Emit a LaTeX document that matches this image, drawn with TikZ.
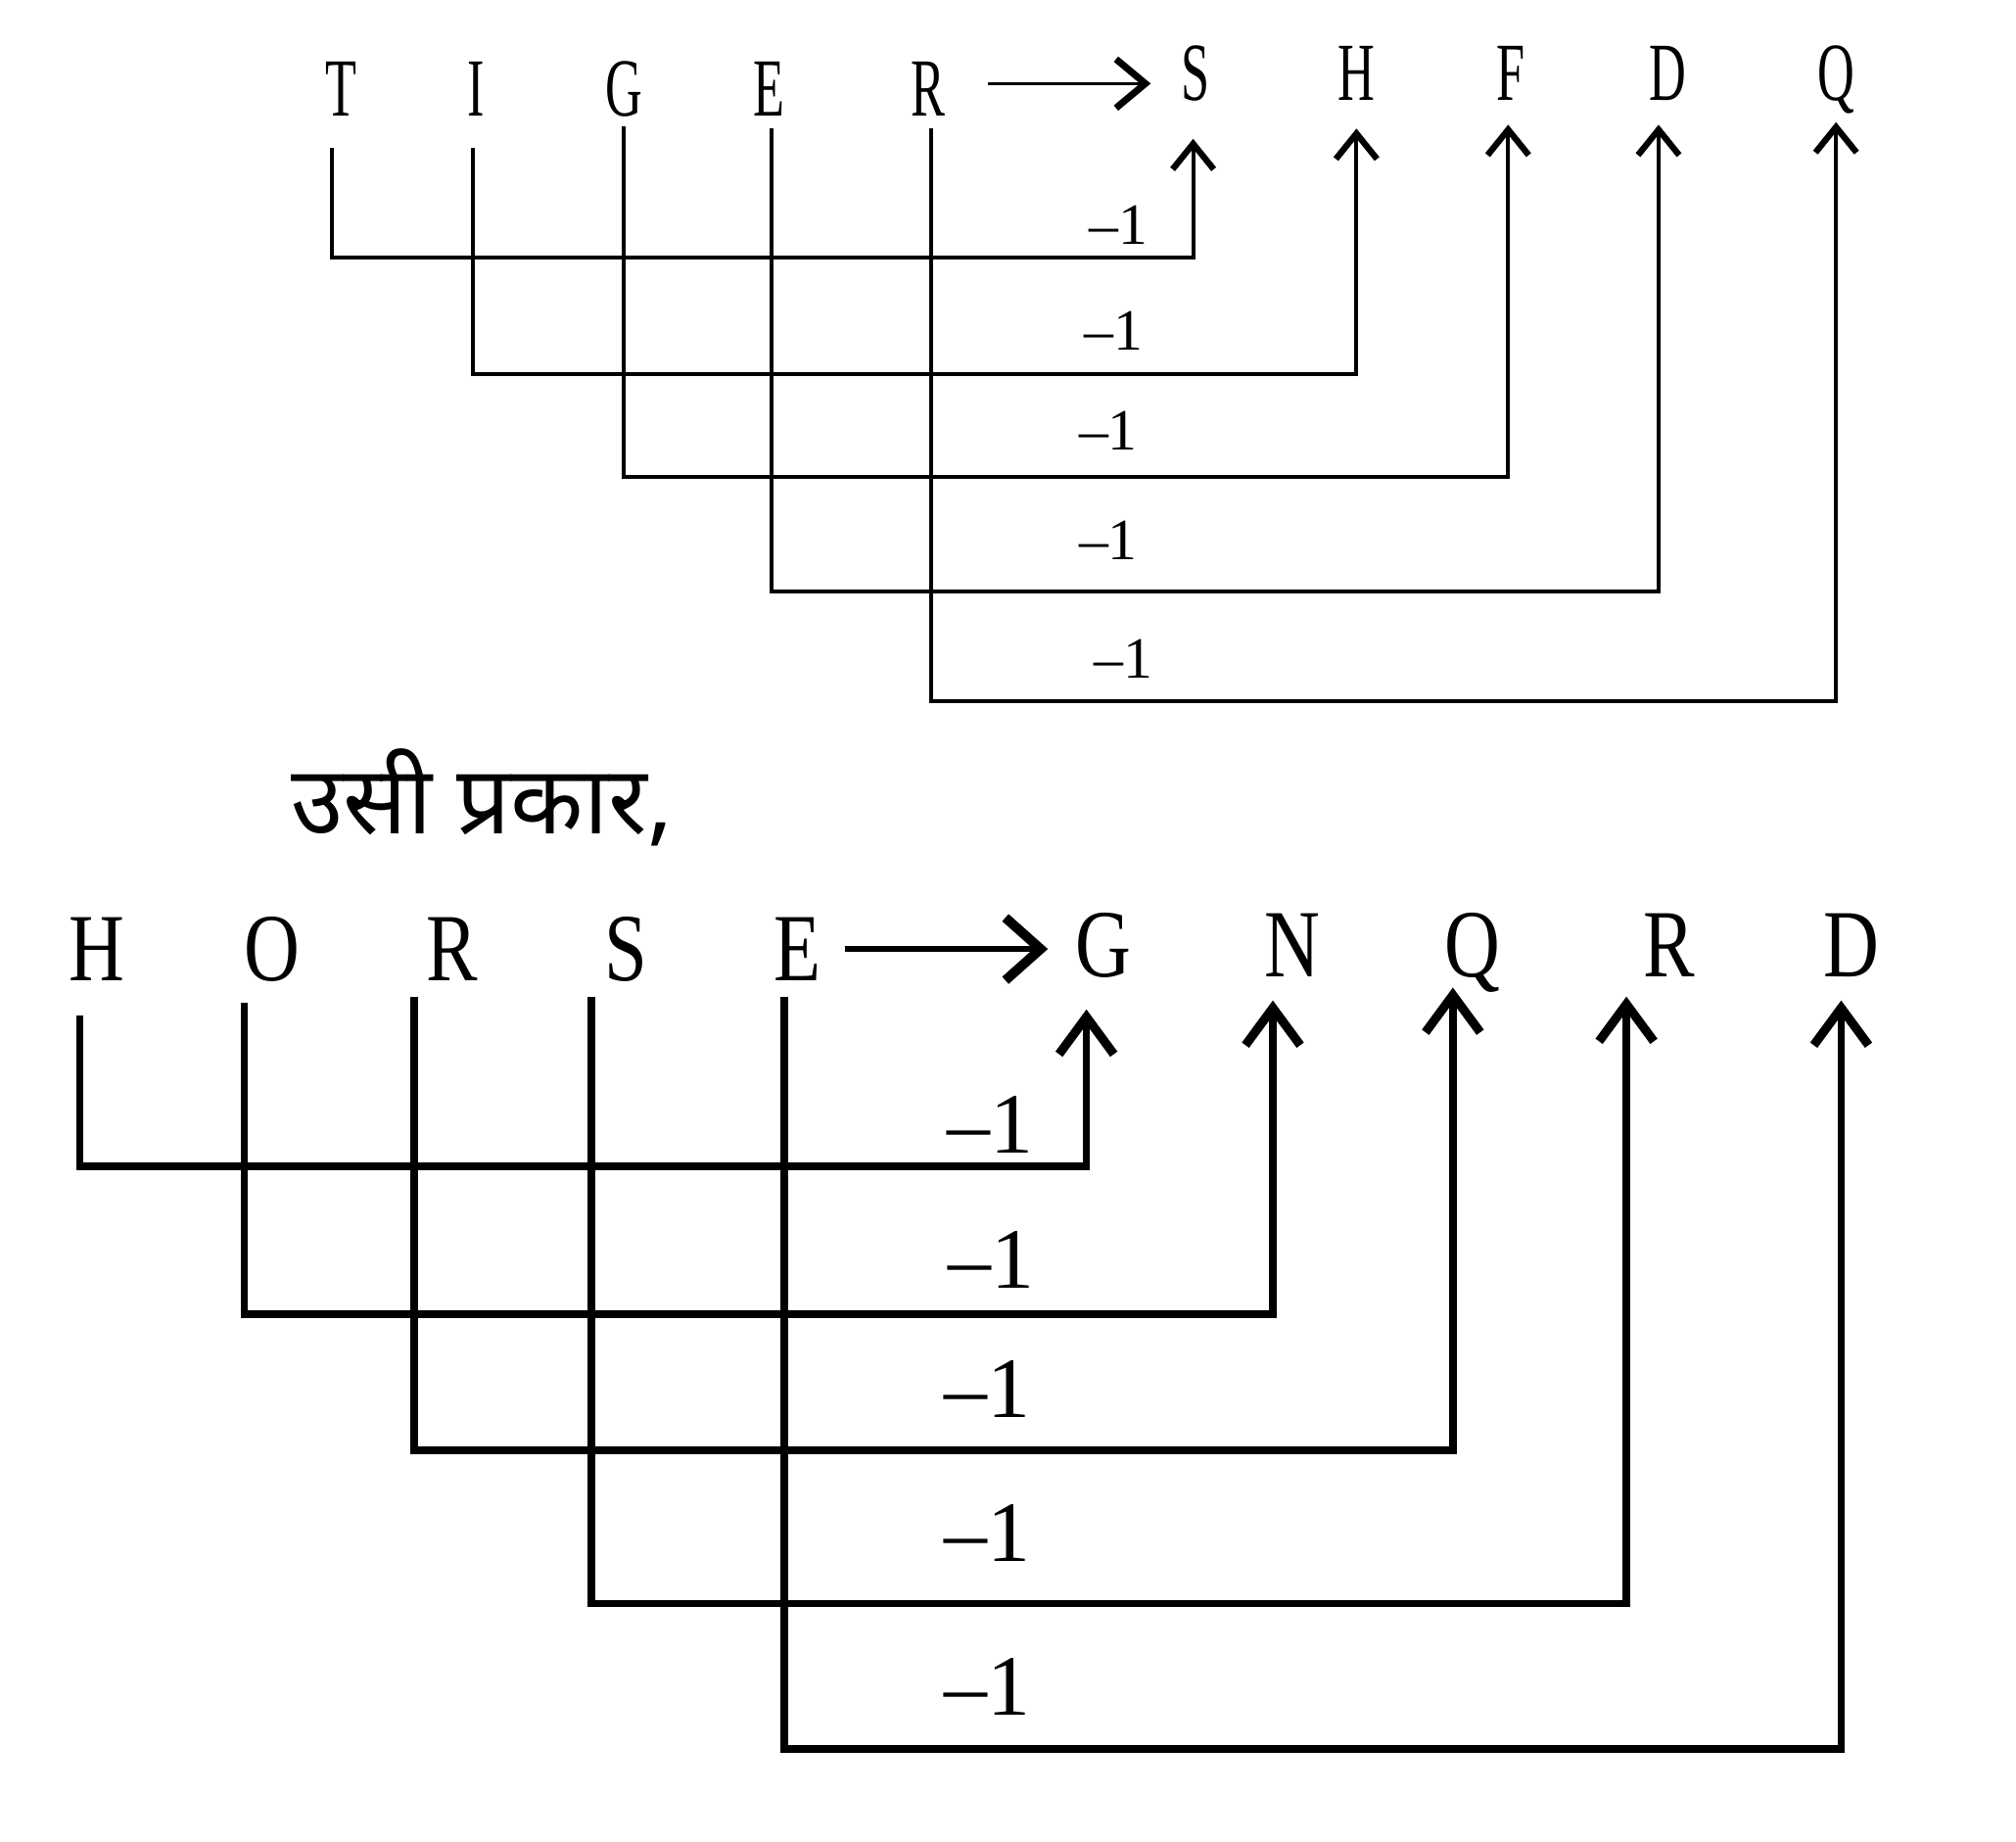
\documentclass[tikz,border=0pt]{standalone}
\usepackage{fontspec}
\usepackage{graphicx}
\setmainfont{Liberation Serif}
\newfontfamily\deva[Script=Devanagari]{Noto Sans}
\usetikzlibrary{arrows.meta}
\newcommand\narrowtxt[2]{\scalebox{#1}[1]{#2}}
\begin{document}
\begin{tikzpicture}[x=0.013131cm,y=-0.013131cm,
  tl/.style={anchor=base,inner sep=0pt,font=\fontsize{24}{24}\selectfont},
  bl/.style={anchor=base,inner sep=0pt,font=\fontsize{28}{28}\selectfont},
  tlab/.style={inner sep=0pt,font=\fontsize{17}{17}\selectfont},
  blab/.style={inner sep=0pt,font=\fontsize{25}{25}\selectfont},
  tline/.style={line width=1.2pt,line join=miter,-{Straight Barb[length=2.6mm,width=4.2mm,line width=1.8pt]}},
  bline/.style={line width=2.2pt,line join=miter,-{Straight Barb[length=3.8mm,width=5.6mm,line width=2.6pt]}},
  tarrow/.style={line width=0.8pt,-{Straight Barb[length=3mm,width=5mm,line width=2pt]}},
  barrow/.style={line width=1.8pt,-{Straight Barb[length=3.6mm,width=6.4mm,line width=2.8pt]}}
]
\useasboundingbox (0,0) rectangle (1568,1432);

% ---------- top: TIGER -> SHFDQ ----------
\node[tl] (tT) at (265,90) {\narrowtxt{0.62}{T}};
\node[tl] (tI) at (370,90) {\narrowtxt{0.62}{I}};
\node[tl] (tG) at (485,90) {\narrowtxt{0.62}{G}};
\node[tl] (tE) at (598,90) {\narrowtxt{0.62}{E}};
\node[tl] (tR) at (722,90) {\narrowtxt{0.62}{R}};
\node[tl] (tS) at (930,78) {\narrowtxt{0.62}{S}};
\node[tl] (tH) at (1055,78) {\narrowtxt{0.62}{H}};
\node[tl] (tF) at (1175,78) {\narrowtxt{0.62}{F}};
\node[tl] (tD) at (1297,78) {\narrowtxt{0.62}{D}};
\node[tl] (tQ) at (1428,78) {\narrowtxt{0.62}{Q}};
\coordinate (tA0) at (768,65);
\coordinate (tA1) at (895,65);
\draw[tarrow] (tA0) -- (tA1);

\coordinate (ts1) at (258,115);  \coordinate (te1) at (928,108);
\coordinate (ts2) at (368,115);  \coordinate (te2) at (1055,100);
\coordinate (ts3) at (485,98);   \coordinate (te3) at (1173,97);
\coordinate (ts4) at (600,100);  \coordinate (te4) at (1290,97);
\coordinate (ts5) at (724,100);  \coordinate (te5) at (1428,95);
\coordinate (th1) at (0,200);
\coordinate (th2) at (0,291);
\coordinate (th3) at (0,371);
\coordinate (th4) at (0,460);
\coordinate (th5) at (0,545);
\draw[tline] (ts1) -- (ts1 |- th1) -- (te1 |- th1) -- (te1);
\draw[tline] (ts2) -- (ts2 |- th2) -- (te2 |- th2) -- (te2);
\draw[tline] (ts3) -- (ts3 |- th3) -- (te3 |- th3) -- (te3);
\draw[tline] (ts4) -- (ts4 |- th4) -- (te4 |- th4) -- (te4);
\draw[tline] (ts5) -- (ts5 |- th5) -- (te5 |- th5) -- (te5);
\node[tlab] (tl1) at (870,175) {–1};
\node[tlab] (tl2) at (866,257) {–1};
\node[tlab] (tl3) at (862,335) {–1};
\node[tlab] (tl4) at (862,420) {–1};
\node[tlab] (tl5) at (874,512) {–1};

% ---------- hindi ----------
\node[inner sep=0pt,font=\deva\fontsize{27.6}{27.6}\selectfont] (hin) at (375,620) {उसी प्रकार,};

% ---------- bottom: HORSE -> GNQRD ----------
\node[bl] (bH) at (75,763) {\narrowtxt{0.8}{H}};
\node[bl] (bO) at (212,763) {\narrowtxt{0.8}{O}};
\node[bl] (bR) at (352,763) {\narrowtxt{0.8}{R}};
\node[bl] (bS) at (487,763) {\narrowtxt{0.8}{S}};
\node[bl] (bE) at (620,763) {\narrowtxt{0.8}{E}};
\node[bl] (bG) at (858,760) {\narrowtxt{0.8}{G}};
\node[bl] (bN) at (1005,760) {\narrowtxt{0.8}{N}};
\node[bl] (bQ) at (1145,760) {\narrowtxt{0.8}{Q}};
\node[bl] (bR2) at (1298,760) {\narrowtxt{0.8}{R}};
\node[bl] (bD) at (1440,760) {\narrowtxt{0.8}{D}};
\coordinate (bA0) at (657,738);
\coordinate (bA1) at (815,738);
\draw[barrow] (bA0) -- (bA1);

\coordinate (bs1) at (62,790);   \coordinate (be1) at (845,785);
\coordinate (bs2) at (190,780);  \coordinate (be2) at (990,778);
\coordinate (bs3) at (322,775);  \coordinate (be3) at (1130,768);
\coordinate (bs4) at (460,775);  \coordinate (be4) at (1265,775);
\coordinate (bs5) at (610,775);  \coordinate (be5) at (1432,778);
\coordinate (bh1) at (0,907);
\coordinate (bh2) at (0,1022);
\coordinate (bh3) at (0,1128);
\coordinate (bh4) at (0,1247);
\coordinate (bh5) at (0,1360);
\draw[bline] (bs1) -- (bs1 |- bh1) -- (be1 |- bh1) -- (be1);
\draw[bline] (bs2) -- (bs2 |- bh2) -- (be2 |- bh2) -- (be2);
\draw[bline] (bs3) -- (bs3 |- bh3) -- (be3 |- bh3) -- (be3);
\draw[bline] (bs4) -- (bs4 |- bh4) -- (be4 |- bh4) -- (be4);
\draw[bline] (bs5) -- (bs5 |- bh5) -- (be5 |- bh5) -- (be5);
\node[blab] (bl1) at (770,875) {–1};
\node[blab] (bl2) at (771,980) {–1};
\node[blab] (bl3) at (768,1080) {–1};
\node[blab] (bl4) at (768,1192) {–1};
\node[blab] (bl5) at (768,1312) {–1};
\end{tikzpicture}
\end{document}
